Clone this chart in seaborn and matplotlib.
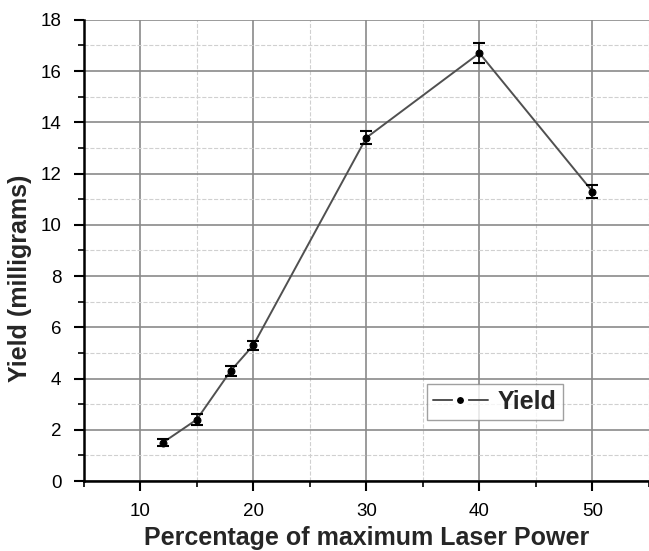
import numpy as np
import pandas as pd
import matplotlib
matplotlib.use("Agg")
import matplotlib.pyplot as plt
from matplotlib.ticker import MultipleLocator
from matplotlib.lines import Line2D
import seaborn as sns

# Data
laser_power = [12, 15, 18, 20, 30, 40, 50]
yield_mg = [1.5, 2.4, 4.3, 5.3, 13.4, 16.7, 11.3]
yield_err = [0.13, 0.2, 0.19, 0.18, 0.25, 0.4, 0.27]

df = pd.DataFrame({"power": laser_power, "yield": yield_mg, "err": yield_err})

sns.set_style("white")
plt.rcParams['font.family'] = ['Liberation Sans', 'DejaVu Sans']

fig = plt.figure(figsize=(6.49, 5.51), dpi=100)
ax = fig.add_axes([0.129, 0.127, 0.871, 0.837])

sns.lineplot(data=df, x="power", y="yield", ax=ax, color="#505050", linewidth=1.4,
             marker="o", markersize=5, markerfacecolor="black", markeredgecolor="black",
             legend=False, zorder=3)
ax.errorbar(df["power"], df["yield"], yerr=df["err"], fmt="none", ecolor="black",
            elinewidth=1.1, capsize=4.5, capthick=1.5, zorder=4)

ax.set_xlim(5, 55)
ax.set_ylim(0, 18)
ax.xaxis.set_major_locator(MultipleLocator(10))
ax.xaxis.set_minor_locator(MultipleLocator(5))
ax.yaxis.set_major_locator(MultipleLocator(2))
ax.yaxis.set_minor_locator(MultipleLocator(1))

ax.grid(which="major", color="#8a8a8a", linewidth=1.2, linestyle="-")
ax.grid(which="minor", color="#d0d0d0", linewidth=0.8, linestyle="--")
ax.set_axisbelow(True)

for side in ["top", "right"]:
    ax.spines[side].set_visible(False)
for side in ["left", "bottom"]:
    ax.spines[side].set_color("black")
    ax.spines[side].set_linewidth(1.8)

ax.tick_params(which="major", direction="out", length=7, width=1.5, labelsize=13.5,
               bottom=True, left=True, colors="black", pad=9)
ax.tick_params(which="minor", direction="out", length=4, width=1.2,
               bottom=True, left=True, colors="black")
ax.set_xticks([10, 20, 30, 40, 50])
ax.set_xticklabels(["10", "20", "30", "40", "50"])

ax.set_xlabel("Percentage of maximum Laser Power", fontsize=18, fontweight="bold", labelpad=4)
ax.set_ylabel("Yield (milligrams)", fontsize=18, fontweight="bold")
ax.yaxis.set_label_coords(-0.092, 0.44)

# legend handle: dash - dot - dash, with gaps around the dot
handle = Line2D([], [], color="#505050", linewidth=1.4, marker="o", markersize=8,
                markerfacecolor="black", markeredgecolor="white", markeredgewidth=3)
leg = ax.legend([handle], ["Yield"], loc="lower right", bbox_to_anchor=(0.848, 0.132),
                borderaxespad=0, fancybox=False, frameon=True, edgecolor="#888888",
                prop={"size": 18, "weight": "bold"}, handlelength=2.2, borderpad=0.25,
                handletextpad=0.4)
leg.get_frame().set_linewidth(1.0)

fig.savefig("out.png", dpi=100)
